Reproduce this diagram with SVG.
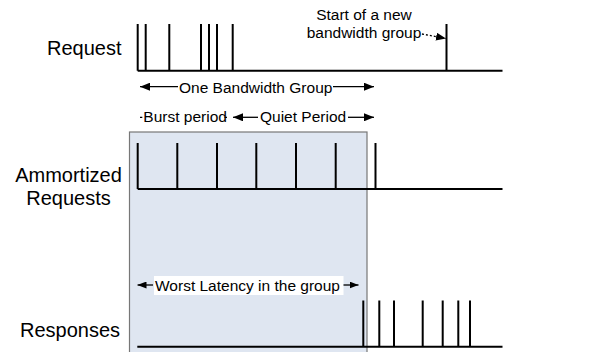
<svg xmlns="http://www.w3.org/2000/svg" width="607" height="352" viewBox="0 0 607 352">
<style>
.big{font-family:"Liberation Sans",Arial,sans-serif;font-size:20px;fill:#000}
.sm{font-family:"Liberation Sans",Arial,sans-serif;font-size:15.5px;fill:#000}
.ax{stroke:#000;stroke-width:2;fill:none}
.tk{stroke:#000;stroke-width:2;fill:none}
.ar{stroke:#000;stroke-width:1.3;fill:none}
</style>
<defs>
<marker id="ah" markerUnits="userSpaceOnUse" markerWidth="10" markerHeight="8" viewBox="0 0 10 8" refX="10" refY="4" orient="auto">
<path d="M0,0 L10,4 L0,8 Z" fill="#000"/>
</marker>
<marker id="ahs" markerUnits="userSpaceOnUse" markerWidth="9" markerHeight="7" viewBox="0 0 9 7" refX="9" refY="3.5" orient="auto-start-reverse">
<path d="M0,0 L9,3.5 L0,7 Z" fill="#000"/>
</marker>
</defs>
<rect id="window" x="129.5" y="132" width="237.5" height="222" fill="#dfe6f1" stroke="#777" stroke-width="1.2"/>
<g id="label-request"><text class="big" x="47" y="55">Request</text></g>
<g id="label-ammortized"><text class="big" x="68.5" y="182" text-anchor="middle">Ammortized</text><text class="big" x="68.5" y="205" text-anchor="middle">Requests</text></g>
<g id="label-responses"><text class="big" x="20" y="336.5">Responses</text></g>
<g id="request-timeline">
<path class="ax" d="M137.7,70.7 H502.5"/>
<path class="tk" d="M137.7,24 V70.7 M145.7,24 V70.7 M169.3,24 V70.7 M201,24 V70.7 M209,24 V70.7 M217,24 V70.7 M232.7,24 V70.7 M446.5,24 V70.7"/>
</g>
<g id="ammortized-timeline">
<path class="ax" d="M137.7,189 H502.5"/>
<path class="tk" d="M137.7,143 V189 M177.3,143 V189 M217,143 V189 M256.3,143 V189 M296,143 V189 M335.7,143 V189 M375.5,143 V189"/>
</g>
<g id="responses-timeline">
<path class="ax" d="M137.3,346.7 H502.5"/>
<path class="tk" d="M363.3,300.5 V346.7 M379.3,300.5 V346.7 M394,300.5 V346.7 M422.7,300.5 V346.7 M442.7,300.5 V346.7 M458.3,300.5 V346.7 M470,300.5 V346.7"/>
</g>
<g id="note-new-group">
<text class="sm" x="364" y="20" text-anchor="middle">Start of a new</text>
<text class="sm" x="364" y="38" text-anchor="middle">bandwidth group</text>
</g>
<g id="bandwidth-group"><text class="sm" x="179" y="92.5">One Bandwidth Group</text></g>
<g id="burst-period"><text class="sm" x="143.3" y="122">Burst period</text></g>
<g id="quiet-period"><text class="sm" x="260" y="122">Quiet Period</text></g>
<g id="worst-latency">
<rect x="154" y="276" width="189.5" height="19" fill="#fff"/>
<text class="sm" x="155" y="290.7">Worst Latency in the group</text>
</g>
<g id="connectors">
<path class="ar" d="M422,34 L446,38.5" stroke-dasharray="2,2" marker-end="url(#ah)"/>
<path class="ar" d="M178,86.7 H140" marker-end="url(#ah)"/>
<path class="ar" d="M333,86.7 H374" marker-end="url(#ah)"/>
<path class="ar" d="M140,117.3 H142.3 M224.5,117.3 H227"/>
<path class="ar" d="M258,117.3 H233" marker-end="url(#ah)"/>
<path class="ar" d="M348,117.3 H374" marker-end="url(#ah)"/>
<path class="ar" d="M153,285 H137.5" marker-end="url(#ahs)"/>
<path class="ar" d="M343.5,285 H358.5" marker-end="url(#ahs)"/>
</g>
</svg>
